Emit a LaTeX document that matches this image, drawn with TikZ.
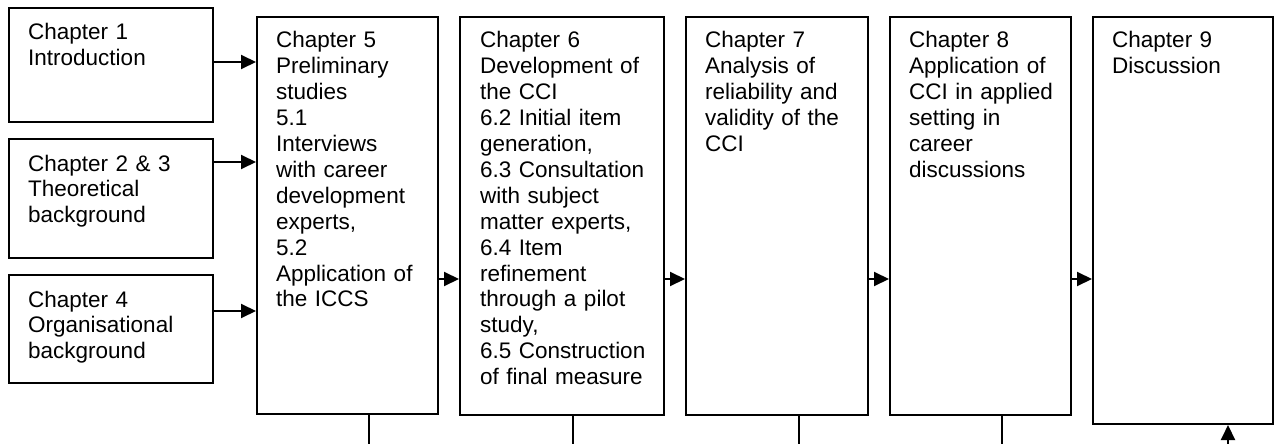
\documentclass[tikz,border=0pt]{standalone}
\usepackage{fontspec}
\setmainfont{Liberation Sans}
\usetikzlibrary{arrows.meta}
\begin{document}
\begin{tikzpicture}[x=1pt,y=-1pt,
  box/.style={draw, line width=2pt, rectangle, inner sep=0pt, anchor=north west},
  txt/.style={anchor=base west, inner sep=0pt, text width=175pt, align=left, font=\fontsize{22.5}{25.9}\selectfont},
  arr/.style={line width=2pt, -{Triangle[length=15pt,width=14pt]}},
  ln/.style={line width=2pt}]
\useasboundingbox (0,0) rectangle (1277,444);
% boxes
\node[box, minimum width=204pt, minimum height=114pt] (b1) at (8,7) {};
\node[box, minimum width=204pt, minimum height=119pt] (b2) at (8,138) {};
\node[box, minimum width=204pt, minimum height=108pt] (b3) at (8,274) {};
\node[box, minimum width=181pt, minimum height=397pt] (b5) at (256,16) {};
\node[box, minimum width=204pt, minimum height=398pt] (b6) at (459,16) {};
\node[box, minimum width=182pt, minimum height=398pt] (b7) at (685,16) {};
\node[box, minimum width=181pt, minimum height=398pt] (b8) at (889,16) {};
\node[box, minimum width=180pt, minimum height=407pt] (b9) at (1092,16) {};
% texts
\node[txt] (t1) at (28,40) {Chapter 1\\Introduction};
\node[txt] (t2) at (28,171) {Chapter 2 \& 3\\Theoretical\\background};
\node[txt] (t3) at (28,307) {Chapter 4\\Organisational\\background};
\node[txt] (t5) at (276,48) {Chapter 5\\Preliminary\\studies\\5.1\\Interviews\\with career\\development\\experts,\\5.2\\Application of\\the ICCS};
\node[txt] (t6) at (480,48) {Chapter 6\\Development of\\the CCI\\6.2 Initial item\\generation,\\6.3 Consultation\\with subject\\matter experts,\\6.4 Item\\refinement\\through a pilot\\study,\\6.5 Construction\\of final measure};
\node[txt] (t7) at (705,48) {Chapter 7\\Analysis of\\reliability and\\validity of the\\CCI};
\node[txt] (t8) at (909,48) {Chapter 8\\Application of\\CCI in applied\\setting in\\career\\discussions};
\node[txt] (t9) at (1112,48) {Chapter 9\\Discussion};
% arrows into chapter 5
\draw[arr] ([yshift=3pt]b1.east) -- ([yshift=3pt]b1.east -| b5.west);
\draw[arr] ([yshift=36.5pt]b2.east) -- ([yshift=36.5pt]b2.east -| b5.west);
\draw[arr] ([yshift=18pt]b3.east) -- ([yshift=18pt]b3.east -| b5.west);
% chain arrows
\draw[arr] ([yshift=-63.5pt]b5.east) -- ([yshift=-63.5pt]b5.east -| b6.west);
\draw[arr] ([yshift=-63pt]b6.east) -- ([yshift=-63pt]b6.east -| b7.west);
\draw[arr] ([yshift=-63pt]b7.east) -- ([yshift=-63pt]b7.east -| b8.west);
\draw[arr] ([yshift=-63pt]b8.east) -- ([yshift=-63pt]b8.east -| b9.west);
% lines at the bottom
\coordinate (e5) at (369,444);
\coordinate (e6) at (573,444);
\coordinate (e7) at (799,444);
\coordinate (e8) at (1002,444);
\coordinate (e9) at (1228,444);
\draw[ln] (b5.south -| e5) -- (e5);
\draw[ln] (b6.south -| e6) -- (e6);
\draw[ln] (b7.south -| e7) -- (e7);
\draw[ln] (b8.south -| e8) -- (e8);
\draw[arr] (e9) -- (e9 |- b9.south);
\end{tikzpicture}
\end{document}
